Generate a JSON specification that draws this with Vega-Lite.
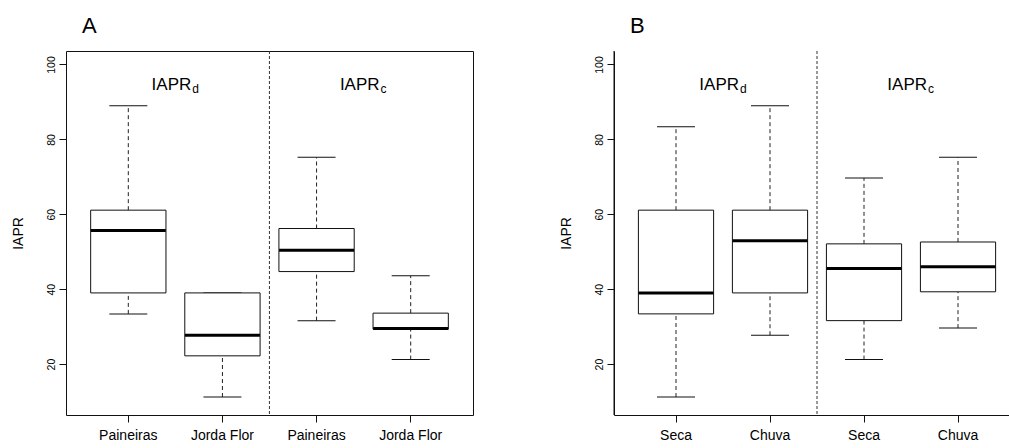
{
  "$schema": "https://vega.github.io/schema/vega-lite/v6.json",
  "padding": {"left": 10, "top": 14, "right": 0, "bottom": 0},
  "bounds": "flush",
  "spacing": 141,
  "config": {
    "font": "Liberation Sans",
    "view": {"stroke": "#111", "strokeWidth": 1},
    "axis": {"grid": false, "labelFont": "Liberation Sans", "titleFont": "Liberation Sans", "labelColor": "#000", "titleColor": "#000", "tickColor": "#111", "domainColor": "#111", "tickSize": 7},
    "title": {"font": "Liberation Sans", "fontWeight": "normal", "fontSize": 22, "color": "#000", "anchor": "start", "frame": "group"}
  },
  "datasets": {
    "boxA": [
      {"caixa": "Paineiras (IAPRd)", "lower": 33.4, "q1": 39.0, "median": 55.7, "q3": 61.1, "upper": 89.0},
      {"caixa": "Jorda Flor (IAPRd)", "lower": 11.2, "q1": 22.2, "median": 27.7, "q3": 39.0, "upper": 39.0},
      {"caixa": "Paineiras (IAPRc)", "lower": 31.6, "q1": 44.7, "median": 50.4, "q3": 56.2, "upper": 75.2},
      {"caixa": "Jorda Flor (IAPRc)", "lower": 21.2, "q1": 29.3, "median": 29.5, "q3": 33.6, "upper": 43.6}
    ],
    "boxB": [
      {"caixa": "Seca (IAPRd)", "lower": 11.2, "q1": 33.4, "median": 39.0, "q3": 61.1, "upper": 83.4},
      {"caixa": "Chuva (IAPRd)", "lower": 27.7, "q1": 39.0, "median": 52.9, "q3": 61.1, "upper": 89.0},
      {"caixa": "Seca (IAPRc)", "lower": 21.2, "q1": 31.6, "median": 45.5, "q3": 52.1, "upper": 69.7},
      {"caixa": "Chuva (IAPRc)", "lower": 29.6, "q1": 39.3, "median": 46.0, "q3": 52.6, "upper": 75.2}
    ],
    "rotA": [
      {"caixa": "Paineiras (IAPRd)", "base": "IAPR", "sub": "d"},
      {"caixa": "Paineiras (IAPRc)", "base": "IAPR", "sub": "c"}
    ],
    "rotB": [
      {"caixa": "Seca (IAPRd)", "base": "IAPR", "sub": "d"},
      {"caixa": "Seca (IAPRc)", "base": "IAPR", "sub": "c"}
    ]
  },
  "hconcat": [
    {
      "width": 407,
      "height": 364,
      "title": {"text": "A", "dx": 16, "offset": 13},
      "data": {"name": "boxA"},
      "encoding": {
        "x": {
          "field": "caixa", "type": "nominal",
          "scale": {"domain": ["Paineiras (IAPRd)", "Jorda Flor (IAPRd)", "Paineiras (IAPRc)", "Jorda Flor (IAPRc)"], "paddingInner": 0, "paddingOuter": 0.162},
          "axis": {"title": null, "domain": false, "labelAngle": 0, "labelFontSize": 14, "labelPadding": 6, "labelExpr": "split(datum.label, ' (')[0]"}
        },
        "y": {
          "type": "quantitative",
          "scale": {"domain": [6.4, 103.6], "nice": false, "zero": false},
          "axis": {"title": "IAPR", "titleFontSize": 14, "titleFontWeight": "normal", "titleX": -48, "titleBaseline": "middle", "domain": false, "values": [20, 40, 60, 80, 100], "labelAngle": -90, "labelAlign": "center", "labelBaseline": "bottom", "labelFontSize": 10.5, "labelPadding": 3}
        }
      },
      "layer": [
        {"mark": {"type": "rule", "stroke": "#222", "strokeDash": [4, 3]}, "encoding": {"y": {"field": "lower", "type": "quantitative"}, "y2": {"field": "q1"}}},
        {"mark": {"type": "rule", "stroke": "#222", "strokeDash": [4, 3]}, "encoding": {"y": {"field": "q3", "type": "quantitative"}, "y2": {"field": "upper"}}},
        {"mark": {"type": "tick", "color": "#111", "size": 38, "thickness": 1, "opacity": 1}, "encoding": {"y": {"field": "lower", "type": "quantitative"}}},
        {"mark": {"type": "tick", "color": "#111", "size": 38, "thickness": 1, "opacity": 1}, "encoding": {"y": {"field": "upper", "type": "quantitative"}}},
        {"mark": {"type": "bar", "fill": "white", "stroke": "#111", "strokeWidth": 1, "width": {"band": 0.8}}, "encoding": {"y": {"field": "q1", "type": "quantitative"}, "y2": {"field": "q3"}}},
        {"mark": {"type": "tick", "color": "#000", "size": 75, "thickness": 3, "opacity": 1}, "encoding": {"y": {"field": "median", "type": "quantitative"}}},
        {"data": {"values": [{"caixa": "Jorda Flor (IAPRd)"}]}, "mark": {"type": "rule", "stroke": "#333", "strokeDash": [3, 2], "xOffset": 47}, "encoding": {"x": {"field": "caixa", "type": "nominal"}}},
        {"data": {"name": "rotA"}, "mark": {"type": "text", "fontSize": 17, "align": "right", "baseline": "alphabetic", "dx": 63, "color": "#000"}, "encoding": {"x": {"field": "caixa", "type": "nominal"}, "y": {"datum": 93.3}, "text": {"field": "base"}}},
        {"data": {"name": "rotA"}, "mark": {"type": "text", "fontSize": 12, "align": "left", "baseline": "alphabetic", "dx": 64, "dy": 3, "color": "#000"}, "encoding": {"x": {"field": "caixa", "type": "nominal"}, "y": {"datum": 93.3}, "text": {"field": "sub"}}}
      ]
    },
    {
      "width": 395,
      "height": 364,
      "view": {"stroke": null},
      "title": {"text": "B", "dx": 16, "offset": 13},
      "data": {"name": "boxB"},
      "encoding": {
        "x": {
          "field": "caixa", "type": "nominal",
          "scale": {"domain": ["Seca (IAPRd)", "Chuva (IAPRd)", "Seca (IAPRc)", "Chuva (IAPRc)"], "paddingInner": 0, "paddingOuter": 0.101, "align": 0.79},
          "axis": {"title": null, "domain": true, "labelAngle": 0, "labelFontSize": 14, "labelPadding": 6, "labelExpr": "split(datum.label, ' (')[0]"}
        },
        "y": {
          "type": "quantitative",
          "scale": {"domain": [6.4, 103.6], "nice": false, "zero": false},
          "axis": {"title": "IAPR", "titleFontSize": 14, "titleFontWeight": "normal", "titleX": -48, "titleBaseline": "middle", "domain": true, "values": [20, 40, 60, 80, 100], "labelAngle": -90, "labelAlign": "center", "labelBaseline": "bottom", "labelFontSize": 10.5, "labelPadding": 3}
        }
      },
      "layer": [
        {"mark": {"type": "rule", "stroke": "#222", "strokeDash": [4, 3]}, "encoding": {"y": {"field": "lower", "type": "quantitative"}, "y2": {"field": "q1"}}},
        {"mark": {"type": "rule", "stroke": "#222", "strokeDash": [4, 3]}, "encoding": {"y": {"field": "q3", "type": "quantitative"}, "y2": {"field": "upper"}}},
        {"mark": {"type": "tick", "color": "#111", "size": 38, "thickness": 1, "opacity": 1}, "encoding": {"y": {"field": "lower", "type": "quantitative"}}},
        {"mark": {"type": "tick", "color": "#111", "size": 38, "thickness": 1, "opacity": 1}, "encoding": {"y": {"field": "upper", "type": "quantitative"}}},
        {"mark": {"type": "bar", "fill": "white", "stroke": "#111", "strokeWidth": 1, "width": {"band": 0.8}}, "encoding": {"y": {"field": "q1", "type": "quantitative"}, "y2": {"field": "q3"}}},
        {"mark": {"type": "tick", "color": "#000", "size": 75, "thickness": 3, "opacity": 1}, "encoding": {"y": {"field": "median", "type": "quantitative"}}},
        {"data": {"values": [{"caixa": "Chuva (IAPRd)"}]}, "mark": {"type": "rule", "stroke": "#333", "strokeDash": [3, 2], "xOffset": 47}, "encoding": {"x": {"field": "caixa", "type": "nominal"}}},
        {"data": {"values": [{"topo": 103.6}]}, "mark": {"type": "rule", "stroke": "#111", "strokeWidth": 1}, "encoding": {"y": {"field": "topo", "type": "quantitative"}}},
        {"data": {"name": "rotB"}, "mark": {"type": "text", "fontSize": 17, "align": "right", "baseline": "alphabetic", "dx": 63, "color": "#000"}, "encoding": {"x": {"field": "caixa", "type": "nominal"}, "y": {"datum": 93.3}, "text": {"field": "base"}}},
        {"data": {"name": "rotB"}, "mark": {"type": "text", "fontSize": 12, "align": "left", "baseline": "alphabetic", "dx": 64, "dy": 3, "color": "#000"}, "encoding": {"x": {"field": "caixa", "type": "nominal"}, "y": {"datum": 93.3}, "text": {"field": "sub"}}}
      ]
    }
  ]
}
